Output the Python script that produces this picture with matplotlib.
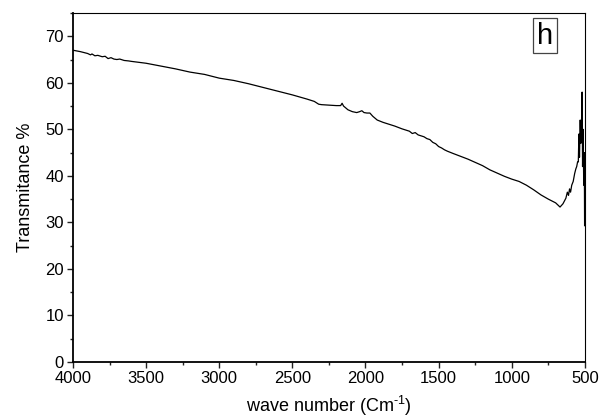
import numpy as np
import matplotlib
matplotlib.use("Agg")
import matplotlib.pyplot as plt
from matplotlib.ticker import MultipleLocator

plt.rcParams["font.family"] = ["Liberation Sans", "DejaVu Sans"]
plt.rcParams["mathtext.fontset"] = "custom"
plt.rcParams["mathtext.rm"] = "Liberation Sans"

# FTIR spectrum
wavenumber = [4000, 3950, 3900, 3880, 3870, 3850, 3830, 3800, 3780, 3760,
              3740, 3720, 3700, 3680, 3650, 3620, 3600, 3550, 3500, 3400,
              3300, 3200, 3100, 3000, 2900, 2800, 2700, 2600, 2500, 2400,
              2350, 2320, 2300, 2250, 2200, 2170, 2160, 2150, 2120, 2090,
              2060, 2040, 2025, 2010, 1990, 1970, 1950, 1920, 1880, 1850,
              1800, 1750, 1700, 1680, 1660, 1640, 1620, 1600, 1580, 1560,
              1540, 1520, 1500, 1480, 1460, 1440, 1400, 1350, 1300, 1250,
              1200, 1150, 1100, 1050, 1000, 950, 900, 850, 800, 750,
              700, 670, 650, 630, 620, 612, 605, 598, 590, 580,
              570, 562, 556, 550, 545, 541, 537, 532, 528, 524,
              519, 516, 512, 508, 504, 502]
transmittance = [67.0, 66.7, 66.3, 66.0, 66.2, 65.8, 65.9, 65.6, 65.7, 65.2,
                 65.4, 65.1, 65.0, 65.1, 64.8, 64.7, 64.6, 64.4, 64.2, 63.6,
                 63.0, 62.3, 61.8, 61.0, 60.5, 59.8, 59.0, 58.2, 57.4, 56.5,
                 56.0, 55.4, 55.3, 55.2, 55.1, 55.1, 55.6, 55.0, 54.2, 53.8,
                 53.6, 53.8, 54.0, 53.6, 53.5, 53.5, 52.8, 52.0, 51.5, 51.2,
                 50.7, 50.1, 49.6, 49.1, 49.3, 48.8, 48.6, 48.4, 48.0, 47.8,
                 47.2, 46.9, 46.3, 46.0, 45.6, 45.3, 44.8, 44.2, 43.6, 42.9,
                 42.2, 41.3, 40.6, 39.9, 39.3, 38.8, 38.0, 37.0, 35.9, 35.0,
                 34.2, 33.3, 34.0, 35.2, 36.5, 35.8, 37.2, 36.5, 38.0, 38.8,
                 40.5, 41.5, 42.0, 43.0, 43.0, 49.0, 44.0, 52.0, 47.0, 50.0,
                 58.0, 42.0, 50.0, 38.0, 45.0, 29.3]

fig = plt.figure(figsize=(6.08, 4.19), dpi=100)
ax = fig.add_axes([0.120, 0.136, 0.842, 0.833])

ax.plot(wavenumber, transmittance, color="black", lw=0.9)

ax.set_xlim(4000, 500)
ax.set_ylim(0, 75)
ax.xaxis.set_major_locator(MultipleLocator(500))
ax.xaxis.set_minor_locator(MultipleLocator(250))
ax.yaxis.set_major_locator(MultipleLocator(10))
ax.yaxis.set_minor_locator(MultipleLocator(5))
ax.tick_params(which="both", direction="out", top=False, right=False,
               labelsize=12, width=1.0, color="#222222", pad=2)
ax.tick_params(which="major", length=4.5)
ax.tick_params(which="minor", length=2.5)

for side in ["left", "bottom"]:
    ax.spines[side].set_linewidth(1.3)
for side in ["top", "right"]:
    ax.spines[side].set_linewidth(0.8)

ax.set_xlabel(r"wave number (Cm$^{\text{-1}}$)", fontsize=13, labelpad=6)
ax.set_ylabel("Transmitance %", fontsize=13, labelpad=8)

ax.text(0.922, 0.975, "h", transform=ax.transAxes, fontsize=21,
        ha="center", va="top",
        bbox=dict(boxstyle="square,pad=0.12", fc="white", ec="#444444", lw=0.9))

fig.savefig("out.png", dpi=100)
